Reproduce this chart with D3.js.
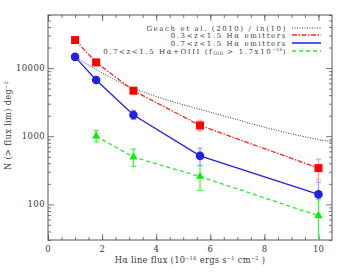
<!DOCTYPE html>
<html>
<head>
<meta charset="utf-8">
<script src="https://cdn.jsdelivr.net/npm/d3@7"></script>
<style>
	body { margin: 0; background: #fff; }
	text { font-family: "DejaVu Serif", serif; fill: #3a3a3a; }
</style>
</head>
<body>
<div id="plot"></div>
<script>
const margin = { top: 15, right: 17, bottom: 33, left: 48 },
	width = 349 - margin.left - margin.right,
	height = 273 - margin.top - margin.bottom;

// Geach et al. (2010) / ln(10)
const geach_x = [1, 1.5, 2, 2.5, 3, 4, 5, 6, 7, 8, 9, 10, 10.5];
const geach_y = [14600, 11000, 8500, 6600, 5300, 3800, 2900, 2250, 1750, 1350, 1080, 890, 830];

// 0.3<z<1.5 Halpha
const red_x = [1, 1.78, 3.16, 5.62, 10];
const red_y = [25700, 12100, 4650, 1440, 340];
const red_lo = [25700, 12100, 4250, 1210, 228];
const red_hi = [25700, 12100, 5100, 1720, 460];

// 0.7<z<1.5 Halpha
const blue_x = [1, 1.78, 3.16, 5.62, 10];
const blue_y = [14600, 6670, 2050, 515, 140];
const blue_lo = [14600, 6300, 1760, 375, 70];
const blue_hi = [14600, 7050, 2400, 670, 212];

// 0.7<z<1.5 Halpha+OIII
const green_x = [1.78, 3.16, 5.62, 10];
const green_y = [1000, 493, 256, 68];
const green_lo = [825, 360, 160, 20];
const green_hi = [1210, 645, 370, 117];

const x_ticks = [0, 2, 4, 6, 8, 10];
const y_ticks = [100, 1000, 10000];

const svg = d3
	.select("#plot")
	.append("svg")
	.attr("width", width + margin.left + margin.right)
	.attr("height", height + margin.top + margin.bottom)
	.append("g")
	.attr("transform", `translate(${margin.left},${margin.top})`);

const x = d3.scaleLinear().domain([0, 10.5]).range([0, width]);
const y = d3.scaleLog().domain([30, 60000]).range([height, 0]);

svg.append("defs").append("clipPath").attr("id", "clip")
	.append("rect").attr("width", width).attr("height", height);

// minor ticks
const x_minor = d3.range(0, 10.5, 0.5);
const y_minor = [];
[10, 100, 1000, 10000].forEach((d) => {
	for (let k = 2; k < 10; k++) {
		const v = d * k;
		if (v >= 30 && v <= 60000) y_minor.push(v);
	}
});

function tick_axis(axis, ticks, size) {
	return axis.tickValues(ticks).tickSize(size).tickSizeOuter(0).tickFormat("");
}

const axis_g = svg.append("g").attr("class", "axes");
axis_g.append("g").attr("transform", `translate(0,${height})`)
	.call(tick_axis(d3.axisTop(x), x_minor, 3));
axis_g.append("g").attr("transform", `translate(0,${height})`)
	.call(tick_axis(d3.axisTop(x), x_ticks, 6));
axis_g.append("g").call(tick_axis(d3.axisBottom(x), x_minor, 3));
axis_g.append("g").call(tick_axis(d3.axisBottom(x), x_ticks, 6));
axis_g.append("g").call(tick_axis(d3.axisRight(y), y_minor, 3));
axis_g.append("g").call(tick_axis(d3.axisRight(y), y_ticks, 6));
axis_g.append("g").attr("transform", `translate(${width},0)`)
	.call(tick_axis(d3.axisLeft(y), y_minor, 3));
axis_g.append("g").attr("transform", `translate(${width},0)`)
	.call(tick_axis(d3.axisLeft(y), y_ticks, 6));
axis_g.selectAll(".domain").remove();
axis_g.selectAll("line").attr("stroke", "#555").attr("stroke-width", 0.8);

svg.append("rect").attr("width", width).attr("height", height)
	.attr("fill", "none").attr("stroke", "#555").attr("stroke-width", 1);

// tick labels
svg.selectAll(".xl").data(x_ticks).join("text")
	.attr("x", (d) => x(d)).attr("y", height + 12)
	.attr("text-anchor", "middle").attr("font-size", 8.5).text((d) => d);
svg.selectAll(".yl").data(y_ticks).join("text")
	.attr("x", -3).attr("y", (d) => y(d) + 3)
	.attr("text-anchor", "end").attr("font-size", 8.5)
	.attr("letter-spacing", 0.4).text((d) => d);

// axis titles
const xt = svg.append("text").attr("x", width / 2).attr("y", height + 23)
	.attr("text-anchor", "middle").attr("font-size", 8.3).attr("letter-spacing", 0.3);
xt.append("tspan").text("H\u03b1 line flux (10");
xt.append("tspan").attr("dy", -3).attr("font-size", 5).text("\u221216");
xt.append("tspan").attr("dy", 3).text(" ergs s");
xt.append("tspan").attr("dy", -3).attr("font-size", 5).text("\u22121");
xt.append("tspan").attr("dy", 3).text(" cm");
xt.append("tspan").attr("dy", -3).attr("font-size", 5).text("\u22122");
xt.append("tspan").attr("dy", 3).text(" )");

const yt = svg.append("text").attr("transform", `translate(${-37},${height / 2 - 2}) rotate(-90)`)
	.attr("text-anchor", "middle").attr("font-size", 8.3).attr("letter-spacing", 0.3);
yt.append("tspan").text("N (> flux lim) deg");
yt.append("tspan").attr("dy", -3).attr("font-size", 5).text("\u22122");

const plot = svg.append("g").attr("clip-path", "url(#clip)");

function series(xs, ys) {
	return xs.map((d, i) => [d, ys[i]]);
}
const line = d3.line().x((d) => x(d[0])).y((d) => y(d[1]));

plot.append("path").datum(series(geach_x, geach_y)).attr("d", line)
	.attr("fill", "none").attr("stroke", "#333").attr("stroke-width", 1)
	.attr("stroke-dasharray", "1,1.5");

function error_bars(xs, lo, hi, colour) {
	const g = plot.append("g").attr("stroke", colour).attr("stroke-width", 1.2);
	xs.forEach((d, i) => {
		if (lo[i] === hi[i]) return;
		g.append("line").attr("x1", x(d)).attr("x2", x(d)).attr("y1", y(lo[i])).attr("y2", y(hi[i]));
		[lo[i], hi[i]].forEach((v) => {
			g.append("line").attr("x1", x(d) - 2.5).attr("x2", x(d) + 2.5).attr("y1", y(v)).attr("y2", y(v));
		});
	});
}

error_bars(red_x, red_lo, red_hi, "#f99");
error_bars(blue_x, blue_lo, blue_hi, "#99f");
error_bars(green_x, green_lo, green_hi, "#3f3");

plot.append("path").datum(series(red_x, red_y)).attr("d", line)
	.attr("fill", "none").attr("stroke", "#f22").attr("stroke-width", 1.3)
	.attr("stroke-dasharray", "5,1.5,1.5,1.5");
plot.append("path").datum(series(blue_x, blue_y)).attr("d", line)
	.attr("fill", "none").attr("stroke", "#22d").attr("stroke-width", 1.3);
plot.append("path").datum(series(green_x, green_y)).attr("d", line)
	.attr("fill", "none").attr("stroke", "#2e2").attr("stroke-width", 1.3)
	.attr("stroke-dasharray", "4,3");

plot.selectAll(".sq").data(series(red_x, red_y)).join("rect")
	.attr("x", (d) => x(d[0]) - 4).attr("y", (d) => y(d[1]) - 4)
	.attr("width", 8).attr("height", 8).attr("fill", "#f00");
plot.selectAll(".ci").data(series(blue_x, blue_y)).join("circle")
	.attr("cx", (d) => x(d[0])).attr("cy", (d) => y(d[1]))
	.attr("r", 4.3).attr("fill", "#22d");
plot.selectAll(".tr").data(series(green_x, green_y)).join("path")
	.attr("transform", (d) => `translate(${x(d[0])},${y(d[1])})`)
	.attr("d", d3.symbol(d3.symbolTriangle, 28)).attr("fill", "#0e0");

// legend
const legend_labels = ["Geach et al. (2010) / ln(10)", "0.3<z<1.5 H\u03b1 emitters", "0.7<z<1.5 H\u03b1 emitters", ""];
const legend_styles = [
	{ c: "#333", w: 1, d: "1,1.5" },
	{ c: "#f22", w: 1.5, d: "5,1.5,1.5,1.5" },
	{ c: "#22d", w: 1.5, d: null },
	{ c: "#2e2", w: 1.5, d: "4,3" },
];
const ly = [13, 20, 28, 36];
legend_labels.forEach((t, i) => {
	const tx = svg.append("text").attr("x", 239).attr("y", ly[i] + 2.5)
		.attr("text-anchor", "end").attr("font-size", 7).attr("letter-spacing", 1.6);
	if (i < 3) tx.text(t);
	else {
		tx.append("tspan").text("0.7<z<1.5 H\u03b1+OIII (f");
		tx.append("tspan").attr("dy", 1.5).attr("font-size", 4.5).attr("letter-spacing", 0.3).text("OIII");
		tx.append("tspan").attr("dy", -1.5).text(" > 1.7x10");
		tx.append("tspan").attr("dy", -3).attr("font-size", 4.5).attr("letter-spacing", 0.3).text("\u221216");
		tx.append("tspan").attr("dy", 3).text(")");
	}
	svg.append("line").attr("x1", 244).attr("x2", 273).attr("y1", ly[i]).attr("y2", ly[i])
		.attr("stroke", legend_styles[i].c).attr("stroke-width", legend_styles[i].w)
		.attr("stroke-dasharray", legend_styles[i].d);
});
</script>
</body>
</html>
